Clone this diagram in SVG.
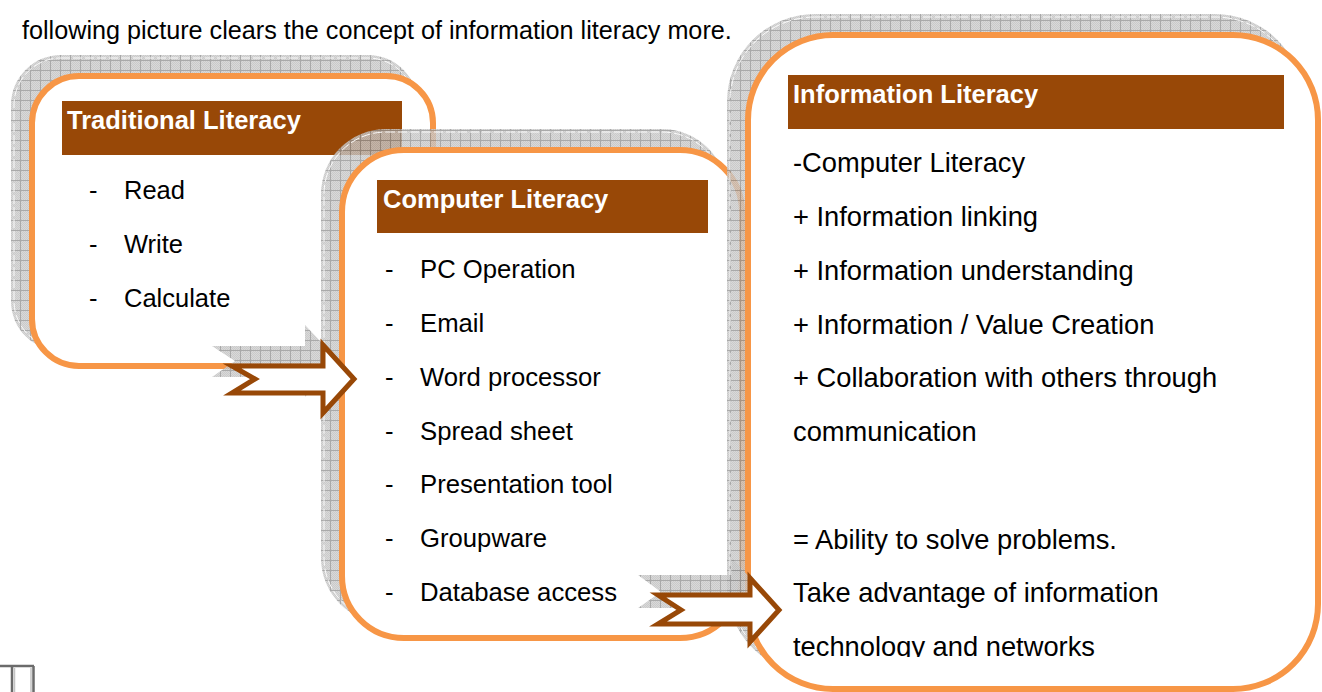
<svg xmlns="http://www.w3.org/2000/svg" width="1322" height="692" viewBox="0 0 1322 692">
  <defs>
    <!-- fine dither used under the grid of the drop shadows -->
    <pattern id="dither" width="2" height="2" patternUnits="userSpaceOnUse">
      <rect width="2" height="2" fill="#d0d0d0"/>
      <rect width="1" height="1" fill="#bdbdbd"/>
      <rect x="1" y="1" width="1" height="1" fill="#bdbdbd"/>
    </pattern>
    <!-- grid texture of the drop shadows -->
    <pattern id="grid" width="10" height="10" patternUnits="userSpaceOnUse">
      <rect width="10" height="10" fill="url(#dither)"/>
      <path d="M0.5 0V10M0 0.5H10" stroke="#939393" stroke-width="1" fill="none"/>
    </pattern>
    <clipPath id="clip3">
      <rect x="740" y="30" width="582" height="627"/>
    </clipPath>
  </defs>
  <style>
    .shadow { fill: url(#grid); opacity: 0.8; }
    .sline { fill: none; stroke: #ffffff; stroke-width: 1; stroke-dasharray: 9 3; opacity: 0.9; }
    .box { fill: #ffffff; stroke: #f79646; stroke-width: 6; }
    .head { fill: #984807; }
    .htxt { font-family: "Liberation Sans", Arial, sans-serif; font-weight: bold; font-size: 25.5px; fill: #ffffff; }
    .txt { font-family: "Liberation Sans", Arial, sans-serif; font-size: 25.5px; fill: #000000; }
    .intro { font-size: 25.2px; }
    .t2 { font-size: 25.7px; }
    .t3 { font-size: 27.3px; }
    .arrow { fill: #ffffff; stroke: #984807; stroke-width: 5; stroke-linejoin: miter; }
  </style>

  <text class="txt intro" x="22" y="39">following picture clears the concept of information literacy more.</text>

  <!-- Traditional Literacy -->
  <g id="traditional">
    <rect class="shadow" x="11" y="55" width="407" height="296" rx="50"/>
    <rect class="sline" x="14" y="58" width="401" height="290" rx="47"/>
    <rect class="box" x="32" y="76" width="401" height="290" rx="47"/>
    <rect class="head" x="62" y="101" width="340" height="54"/>
    <text class="htxt" x="67" y="129">Traditional Literacy</text>
    <g class="txt">
      <text x="89" y="199">-</text><text x="124" y="199">Read</text>
      <text x="89" y="253">-</text><text x="124" y="253">Write</text>
      <text x="89" y="307">-</text><text x="124" y="307">Calculate</text>
    </g>
  </g>

  <!-- Computer Literacy -->
  <g id="computer">
    <rect class="shadow" x="321" y="129" width="406" height="494" rx="65"/>
    <rect class="sline" x="324" y="132" width="400" height="488" rx="62"/>
    <rect class="box" x="342" y="150" width="400" height="488" rx="62"/>
    <rect class="head" x="377" y="180" width="331" height="53"/>
    <text class="htxt" x="383" y="208">Computer Literacy</text>
    <g class="txt t2">
      <text x="385" y="278">-</text><text x="420" y="278">PC Operation</text>
      <text x="385" y="332">-</text><text x="420" y="332">Email</text>
      <text x="385" y="386">-</text><text x="420" y="386">Word processor</text>
      <text x="385" y="440">-</text><text x="420" y="440">Spread sheet</text>
      <text x="385" y="493">-</text><text x="420" y="493">Presentation tool</text>
      <text x="385" y="547">-</text><text x="420" y="547">Groupware</text>
      <text x="385" y="601">-</text><text x="420" y="601">Database access</text>
    </g>
  </g>

  <!-- Information Literacy -->
  <g id="information">
    <rect class="shadow" x="727" y="14" width="576" height="660" rx="88"/>
    <rect class="sline" x="730" y="17" width="570" height="654" rx="85"/>
    <rect class="box" x="748" y="35" width="570" height="654" rx="85"/>
    <rect class="head" x="788" y="75" width="496" height="54"/>
    <text class="htxt" x="793" y="103">Information Literacy</text>
    <g class="txt t3" clip-path="url(#clip3)">
      <text x="793" y="172">-Computer Literacy</text>
      <text x="793" y="226">+ Information linking</text>
      <text x="793" y="280">+ Information understanding</text>
      <text x="793" y="334">+ Information / Value Creation</text>
      <text x="793" y="387">+ Collaboration with others through</text>
      <text x="793" y="441">communication</text>
      <text x="793" y="549">= Ability to solve problems.</text>
      <text x="793" y="602">Take advantage of information</text>
      <text x="793" y="656">technology and networks</text>
    </g>
  </g>

  <!-- connectors: block arrows between the boxes -->
  <g id="connectors">
    <polygon class="shadow" points="212,346 305,346 305,325 339,361 305,397 305,377 212,377 235,361"/>
    <polygon class="arrow" points="232,366 323,366 323,345 354,379 323,413 323,393 232,393 255,379"/>
    <polygon class="shadow" points="638,575 732,575 732,558 763,592 732,626 732,608 638,608 661,592"/>
    <polygon class="arrow" points="658,595 750,595 750,578 779,610 750,642 750,624 658,624 681,610"/>
  </g>

  <!-- table border fragment at the page bottom -->
  <g id="border">
    <path d="M0 666H34M12 666V692M33.5 666V692" stroke="#6b6b6b" stroke-width="2.5" fill="none"/>
    <path d="M14.5 668V692M31 668V692" stroke="#c4c4c4" stroke-width="1.5" fill="none"/>
  </g>
</svg>
